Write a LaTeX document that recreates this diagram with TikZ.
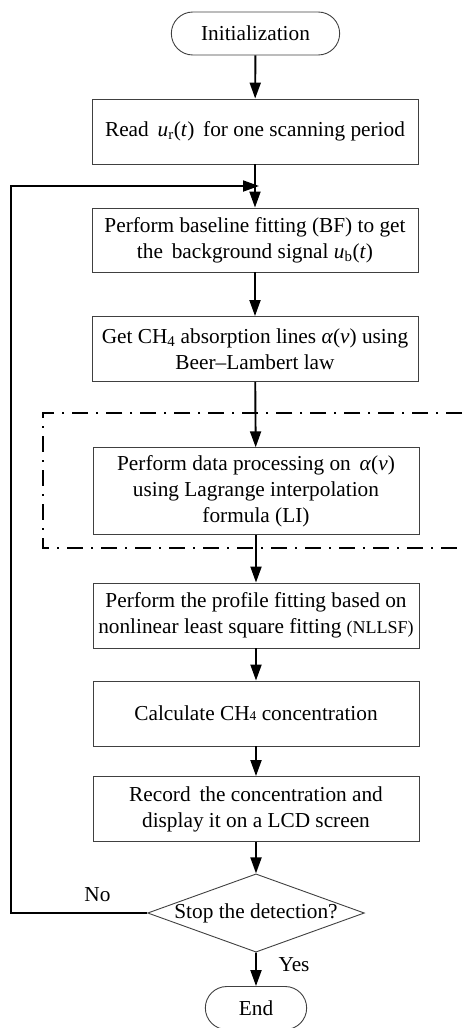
\documentclass[tikz,border=0pt]{standalone}
\usepackage{fontspec}
\setmainfont{Liberation Serif}
\usetikzlibrary{arrows.meta,shapes.geometric,shapes.misc,positioning}

\begin{document}
\begin{tikzpicture}[x=1pt, y=-1pt,
    every node/.style={font=\fontsize{21.3}{26}\selectfont, align=center},
    box/.style={rectangle, draw=black!75, line width=0.9pt, minimum width=326pt, minimum height=65pt, inner sep=2pt},
    term/.style={rounded rectangle, draw=black!75, line width=0.9pt, minimum height=43pt},
    decide/.style={diamond, draw=black!75, line width=0.9pt, aspect=2.77, minimum width=216pt, minimum height=78pt, inner sep=0pt},
    flow/.style={line width=1.9pt, -{Triangle[length=16pt, width=11pt]}},
    dashdot/.style={line width=1.6pt, dash pattern=on 16pt off 8pt on 2pt off 8pt}]
    \useasboundingbox (0,0) rectangle (462,1028);

    % Caixas do fluxo
    \node[term, minimum width=175pt] (init) at (255.5, 33.5) {Initialization};
    \node[box] (read) at (255, 131.5) {Read \,\textit{u}\textsubscript{r}(\textit{t})\, for one scanning period};
    \node[box, minimum height=64pt] (bf) at (255, 240) {Perform baseline fitting (BF) to get\\the \,background signal \textit{u}\textsubscript{b}(\textit{t})};
    \node[box] (abs) at (255, 349) {Get CH\textsubscript{4} absorption lines \textit{α}(\textit{v}) using\\Beer--Lambert law};
    \node[box, minimum height=86.5pt] (li) at (256, 491) {Perform data processing on \,\textit{α}(\textit{v})\\using Lagrange interpolation\\formula (LI)};
    \node[box] (fit) at (256, 615.5) {Perform the profile fitting based on\\nonlinear least square fitting {\fontsize{18}{26}\selectfont(NLLSF)}};
    \node[box] (calc) at (256, 713.5) {Calculate CH{\fontsize{13.5}{26}\selectfont 4} concentration};
    \node[box] (rec) at (256, 809) {Record \,the concentration and\\display it on a LCD screen};
    \node[decide] (stop) at (256, 913) {Stop the detection?};
    \node[term, minimum width=108pt] (end) at (256, 1008) {End};

    % Rótulos
    \node (no) at (97.5, 895) {No};
    \node (yes) at (294, 965) {Yes};

    % Pontos do laço
    \coordinate (join) at (259, 186);
    \coordinate (lp) at (11, 913);

    % Setas
    \draw[flow] (init) -- (read);
    \draw[flow] (read) -- (bf);
    \draw[flow] (bf) -- (abs);
    \draw[flow] (abs) -- (li);
    \draw[flow] (li) -- (fit);
    \draw[flow] (fit) -- (calc);
    \draw[flow] (calc) -- (rec);
    \draw[flow] (rec) -- (stop);
    \draw[flow] (stop) -- (end);
    \draw[flow] (stop.west) -- (lp) |- (join);

    % Moldura tracejada
    \draw[dashdot] (462, 413) -- (43, 413) -- (43, 548) -- (462, 548);
\end{tikzpicture}
\end{document}
